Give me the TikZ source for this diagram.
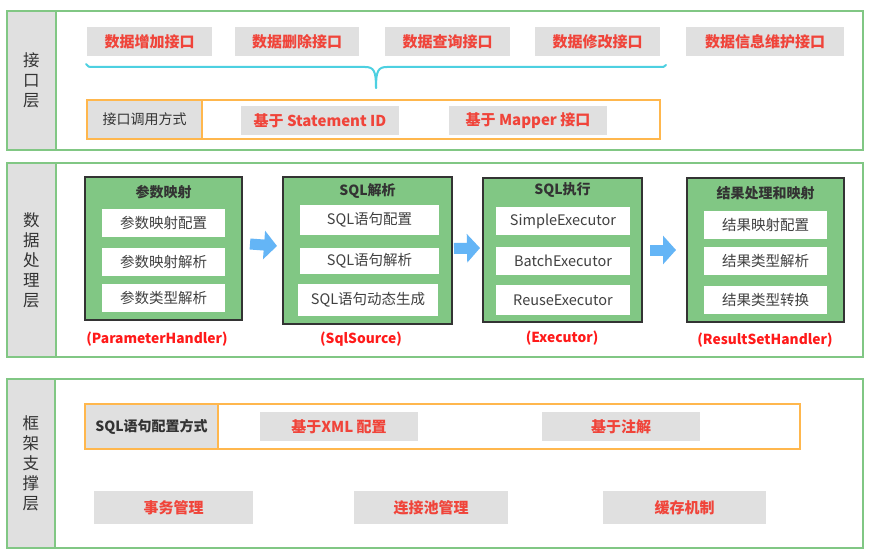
\documentclass[tikz,border=0pt]{standalone}
\usepackage{fontspec}
\setmainfont{Noto Sans CJK SC}
\usetikzlibrary{arrows.meta}
\definecolor{lgreen}{HTML}{81C784}
\definecolor{lgray}{HTML}{E0E0E0}
\definecolor{redA}{HTML}{F0443A}
\definecolor{redB}{HTML}{FF1A1A}
\definecolor{orangeA}{HTML}{FFB74D}
\definecolor{blueA}{HTML}{64B5F6}
\definecolor{cyanA}{HTML}{4DD0E1}
\definecolor{darkA}{HTML}{333333}
\definecolor{textA}{HTML}{404040}
\newcommand\bx[7]{\node[#6, minimum width={(#4-#2)*1pt}, minimum height={(#5-#3)*1pt}] (#1) at ({(#2+#4)/2},{(#3+#5)/2}) {#7};}
\tikzset{
  every node/.style={inner sep=0pt, outer sep=0pt},
  layerbox/.style={draw=lgreen, line width=2pt, fill=white},
  layerlab/.style={draw=lgreen, line width=2pt, fill=lgray, align=center, text=darkA, font=\fontsize{16.5}{20}\selectfont},
  redbox/.style={fill=lgray, text=redA, font=\fontsize{15}{18}\selectfont\bfseries},
  orangebox/.style={draw=orangeA, line width=2pt},
  cellbox/.style={draw=orangeA, line width=2pt, fill=lgray, text=darkA, font=\fontsize{14}{17}\selectfont},
  procbox/.style={draw=darkA, line width=2pt, fill=lgreen},
  proctitle/.style={text=darkA, font=\fontsize{14}{17}\selectfont\bfseries},
  itembox/.style={fill=white, text=textA, font=\fontsize{14.5}{17}\selectfont},
  handler/.style={text=redB, font=\fontsize{13.8}{17}\selectfont\bfseries},
  blockarrow/.style={draw=blueA, line width=11pt, -{Triangle[width=28pt,length=13pt]}},
  bracestyle/.style={draw=cyanA, line width=2pt, line cap=round}
}
\begin{document}
\begin{tikzpicture}[x=1pt,y=-1pt]
\useasboundingbox (0,0) rectangle (873,559);
% ---------- layer 1
\bx{L1}{7}{11}{863}{150}{layerbox}{}
\bx{L1lab}{7}{11}{56}{150}{layerlab}{接\\口\\层}
\bx{t1}{87}{27}{212}{56}{redbox}{数据增加接口}
\bx{t2}{235}{27}{359}{56}{redbox}{数据删除接口}
\bx{t3}{385}{27}{510}{56}{redbox}{数据查询接口}
\bx{t4}{535}{27}{660}{56}{redbox}{数据修改接口}
\bx{t5}{686}{27}{844}{56}{redbox}{数据信息维护接口}
\coordinate (brL) at (86,64);
\coordinate (brT) at (376,88);
\coordinate (brR) at (666,65);
\draw[bracestyle] (brL) .. controls (88,67) .. (95,67) -- (365,67) .. controls (374,67) and (376,71) .. (brT);
\draw[bracestyle] (brT) .. controls (376,71) and (378,67) .. (387,67) -- (660,67) .. controls (664,67) .. (brR);
\bx{ob1}{87}{100}{660}{139}{orangebox}{}
\bx{c1}{87}{100}{202}{139}{cellbox}{接口调用方式}
\bx{s1}{241}{106}{399}{135}{redbox}{基于 Statement ID}
\bx{s2}{449}{106}{607}{135}{redbox}{基于 Mapper 接口}
% ---------- layer 2
\bx{L2}{7}{163}{863}{357}{layerbox}{}
\bx{L2lab}{7}{163}{56}{357}{layerlab}{数\\据\\处\\理\\层}
% box 1
\bx{p1}{85}{177}{242}{320}{procbox}{}
\node[proctitle] (p1t) at (163.5,192) {参数映射};
\bx{p1a}{102}{209}{225}{237}{itembox}{参数映射配置}
\bx{p1b}{102}{248}{225}{276}{itembox}{参数映射解析}
\bx{p1c}{102}{284}{225}{312}{itembox}{参数类型解析}
\node[handler] (h1) at (157,339) {(ParameterHandler)};
% box 2
\bx{p2}{283}{177}{452}{324}{procbox}{}
\node[proctitle] (p2t) at (367.5,191) {SQL解析};
\bx{p2a}{300}{205}{439}{235}{itembox}{SQL语句配置}
\bx{p2b}{300}{248}{439}{274}{itembox}{SQL语句解析}
\bx{p2c}{298}{284}{438}{316}{itembox}{SQL语句动态生成}
\node[handler] (h2) at (361,339) {(SqlSource)};
% box 3
\bx{p3}{483}{178}{642}{322}{procbox}{}
\node[proctitle] (p3t) at (562.5,190) {SQL执行};
\bx{p3a}{496}{207}{630}{235}{itembox}{SimpleExecutor}
\bx{p3b}{496}{247}{630}{275}{itembox}{BatchExecutor}
\bx{p3c}{496}{285}{630}{315}{itembox}{ReuseExecutor}
\node[handler] (h3) at (562,338) {(Executor)};
% box 4
\bx{p4}{687}{178}{844}{322}{procbox}{}
\node[proctitle] (p4t) at (765.5,193) {结果处理和映射};
\bx{p4a}{704}{211}{827}{239}{itembox}{结果映射配置}
\bx{p4b}{704}{247}{827}{275}{itembox}{结果类型解析}
\bx{p4c}{704}{286}{827}{314}{itembox}{结果类型转换}
\node[handler] (h4) at (765,340) {(ResultSetHandler)};
% arrows
\draw[blockarrow] ([xshift=8pt,yshift=4.5pt]p1.east) -- ([xshift=-6pt,yshift=4.5pt]p2.west);
\draw[blockarrow] ([xshift=2pt,yshift=2pt]p2.east) -- ([xshift=-3pt,yshift=2pt]p3.west);
\draw[blockarrow] ([xshift=8pt]p3.east) -- ([xshift=-11pt]p4.west);
% ---------- layer 3
\bx{L3}{7}{379}{863}{548}{layerbox}{}
\bx{L3lab}{7}{379}{55}{548}{layerlab}{框\\架\\支\\撑\\层}
\bx{ob3}{85}{404}{800}{449}{orangebox}{}
\bx{c3}{85}{404}{218}{449}{cellbox,font=\fontsize{14}{17}\selectfont\bfseries}{SQL语句配置方式}
\bx{x1}{260}{412}{418}{441}{redbox}{基于XML 配置}
\bx{x2}{542}{412}{700}{441}{redbox}{基于注解}
\bx{b1}{94}{491}{253}{524}{redbox}{事务管理}
\bx{b2}{354}{491}{508}{524}{redbox}{连接池管理}
\bx{b3}{603}{491}{766}{524}{redbox}{缓存机制}
\end{tikzpicture}
\end{document}
